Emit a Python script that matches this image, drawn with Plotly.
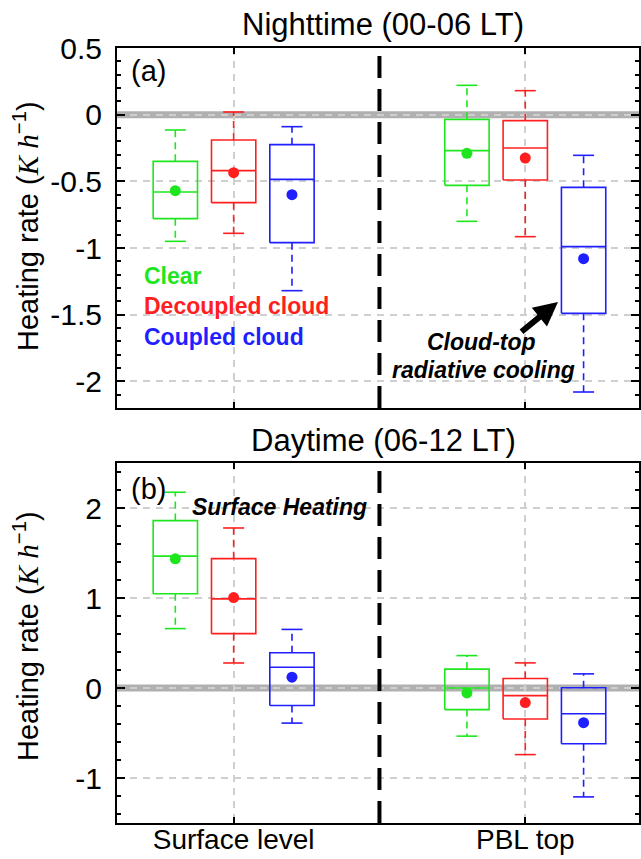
import plotly.graph_objects as go

# ---------------- data ----------------
groups = ["Surface level", "PBL top"]
group_x = [1, 2]
series = ["Clear", "Decoupled cloud", "Coupled cloud"]
colors = ["#1ee61e", "#ff1f1f", "#1f1fff"]

# Panel (a) Nighttime (00-06 LT): values per group [Surface level, PBL top]
night_lower = [[-0.95, -0.80], [-0.89, -0.915], [-1.32, -2.08]]
night_q1 = [[-0.78, -0.53], [-0.66, -0.49], [-0.96, -1.49]]
night_median = [[-0.58, -0.27], [-0.42, -0.25], [-0.485, -0.99]]
night_q3 = [[-0.35, -0.035], [-0.19, -0.045], [-0.225, -0.545]]
night_upper = [[-0.115, 0.22], [0.02, 0.18], [-0.09, -0.305]]
night_mean = [[-0.57, -0.29], [-0.435, -0.325], [-0.60, -1.08]]

# Panel (b) Daytime (06-12 LT)
day_lower = [[0.66, -0.535], [0.278, -0.74], [-0.39, -1.21]]
day_q1 = [[1.047, -0.24], [0.604, -0.345], [-0.195, -0.62]]
day_median = [[1.465, 0.0], [0.99, -0.085], [0.231, -0.286]]
day_q3 = [[1.86, 0.21], [1.437, 0.106], [0.391, 0.002]]
day_upper = [[2.175, 0.36], [1.778, 0.279], [0.651, 0.157]]
day_mean = [[1.435, -0.055], [1.005, -0.162], [0.12, -0.385]]

night_ticks = [-2, -1.5, -1, -0.5, 0, 0.5]
night_ticktext = ["-2", "-1.5", "-1", "-0.5", "0", "0.5"]
day_ticks = [-1, 0, 1, 2]
day_ticktext = ["-1", "0", "1", "2"]

# ---------------- style ----------------
offsets = [-0.2, 0.0, 0.2]
half_box = 0.076
half_cap = 0.036
FONT = "Liberation Sans"

fig = go.Figure()

def add_panel(lower, q1, med, q3, upper, mean, xa, ya):
    for s, name in enumerate(series):
        col = colors[s]
        sx, sy = [], []
        wx, wy = [], []
        mx, my = [], []
        for g, gx in enumerate(group_x):
            c = gx + offsets[s]
            sx += [c - half_box, c + half_box, c + half_box, c - half_box, c - half_box, None]
            sy += [q1[s][g], q1[s][g], q3[s][g], q3[s][g], q1[s][g], None]
            sx += [c - half_box, c + half_box, None]
            sy += [med[s][g], med[s][g], None]
            sx += [c - half_cap, c + half_cap, None, c - half_cap, c + half_cap, None]
            sy += [upper[s][g], upper[s][g], None, lower[s][g], lower[s][g], None]
            wx += [c, c, None, c, c, None]
            wy += [q3[s][g], upper[s][g], None, q1[s][g], lower[s][g], None]
            mx.append(c)
            my.append(mean[s][g])
        fig.add_trace(go.Scatter(x=wx, y=wy, mode="lines", xaxis=xa, yaxis=ya,
                                 line=dict(color=col, width=1.6, dash="7px,5px"),
                                 showlegend=False, hoverinfo="skip"))
        fig.add_trace(go.Scatter(x=sx, y=sy, mode="lines", xaxis=xa, yaxis=ya,
                                 line=dict(color=col, width=1.6),
                                 showlegend=False, hoverinfo="skip", name=name))
        fig.add_trace(go.Scatter(x=mx, y=my, mode="markers", xaxis=xa, yaxis=ya,
                                 marker=dict(color=col, size=11),
                                 showlegend=False, name=name))

add_panel(night_lower, night_q1, night_median, night_q3, night_upper, night_mean, "x", "y")
add_panel(day_lower, day_q1, day_median, day_q3, day_upper, day_mean, "x2", "y2")

H = 859.0
common_x = dict(range=[0.6, 2.39], tickvals=group_x, ticktext=groups, automargin=False,
                showline=True, linecolor="black", linewidth=2, mirror="allticks",
                ticks="inside", ticklen=6, tickwidth=1.5, tickcolor="black",
                showgrid=True, gridcolor="#cfcfcf", gridwidth=1.5, griddash="7px,6px",
                zeroline=False, domain=[117 / 641, 639 / 641],
                tickfont=dict(family=FONT, size=28, color="black"))
common_y = dict(showline=True, linecolor="black", linewidth=2, mirror="allticks", automargin=False,
                ticks="inside", ticklen=8, tickwidth=1.5, tickcolor="black",
                showgrid=True, gridcolor="#cfcfcf", gridwidth=1.5, griddash="7px,6px",
                zeroline=False, ticklabelstandoff=7,
                tickfont=dict(family=FONT, size=30, color="black"))

fig.update_layout(
    template="none",
    width=641, height=859, margin=dict(l=0, r=0, t=0, b=0, autoexpand=False),
    paper_bgcolor="white", plot_bgcolor="white",
    xaxis=dict(common_x, anchor="y", showticklabels=False),
    xaxis2=dict(common_x, anchor="y2", ticklabelstandoff=-10),
    yaxis=dict(common_y, range=[-2.2, 0.5], tickvals=night_ticks, ticktext=night_ticktext,
               domain=[1 - 408 / H, 1 - 48 / H], anchor="x",
               minor=dict(ticks="inside", dtick=0.1, ticklen=4, tickcolor="black", showgrid=False)),
    yaxis2=dict(common_y, range=[-1.5, 2.5], tickvals=day_ticks, ticktext=day_ticktext,
                domain=[1 - 823 / H, 1 - 463 / H], anchor="x2",
                minor=dict(ticks="inside", dtick=0.2, ticklen=4, tickcolor="black", showgrid=False)),
)

shapes = []
for xr, yr in [("x", "y"), ("x2", "y2")]:
    shapes.append(dict(type="line", xref=xr + " domain", yref=yr, x0=0, x1=1, y0=0, y1=0,
                       line=dict(color="rgba(150,150,150,0.75)", width=7), layer="below"))
    shapes.append(dict(type="line", xref=xr, yref=yr + " domain",
                       x0=(group_x[0] + group_x[1]) / 2, x1=(group_x[0] + group_x[1]) / 2,
                       y0=0, y1=1, line=dict(color="black", width=4, dash="22px,11px")))
fig.update_layout(shapes=shapes)

def txt(text, xref, yref, x, y, size, color="black", xanchor="center", angle=0):
    return dict(text=text, xref=xref, yref=yref, x=x, y=y, showarrow=False,
                xanchor=xanchor, yanchor="middle", textangle=angle,
                font=dict(family=FONT, size=size, color=color))

ann = []
ann.append(txt("Nighttime (00-06 LT)", "paper", "paper", 383 / 641, 1 - 25 / H, 31))
ann.append(txt("Daytime (06-12 LT)", "paper", "paper", 383 / 641, 1 - 440 / H, 31))
ytitle = ('Heating rate (<span style="font-family:Liberation Serif"><i>K h</i></span>'
          '<sup>−1</sup>)')
ann.append(txt(ytitle, "paper", "paper", 26 / 641, 1 - 226 / H, 29, angle=-90))
ann.append(txt(ytitle, "paper", "paper", 26 / 641, 1 - 636 / H, 29, angle=-90))
ann.append(txt("(a)", "x domain", "y domain", (148 - 117) / 522, (408 - 71) / 360, 29))
ann.append(txt("(b)", "x2 domain", "y2 domain", (148 - 117) / 522, (823 - 489) / 360, 29))
legend_y = [276, 306, 337]
for s, name in enumerate(series):
    ann.append(txt("<b>%s</b>" % name, "x domain", "y domain", (142 - 117) / 522,
                   (408 - legend_y[s]) / 360, 23, color=colors[s], xanchor="left"))
ann.append(txt("<b><i>Surface Heating</i></b>", "x2 domain", "y2 domain",
               (279 - 117) / 522, (823 - 507) / 360, 23))
ann.append(txt("<b><i>Cloud-top</i></b>", "x domain", "y domain",
               (482 - 117) / 522, (408 - 342) / 360, 23))
ann.append(txt("<b><i>radiative cooling</i></b>", "x domain", "y domain",
               (484 - 117) / 522, (408 - 370) / 360, 23))
ann.append(dict(text="", xref="x domain", yref="y domain",
                x=(558 - 117) / 522, y=(408 - 302) / 360, ax=-38, ay=31,
                showarrow=True, arrowhead=2, arrowsize=0.8, arrowwidth=6, arrowcolor="black"))
fig.update_layout(annotations=ann)

fig.write_html("out.html")
